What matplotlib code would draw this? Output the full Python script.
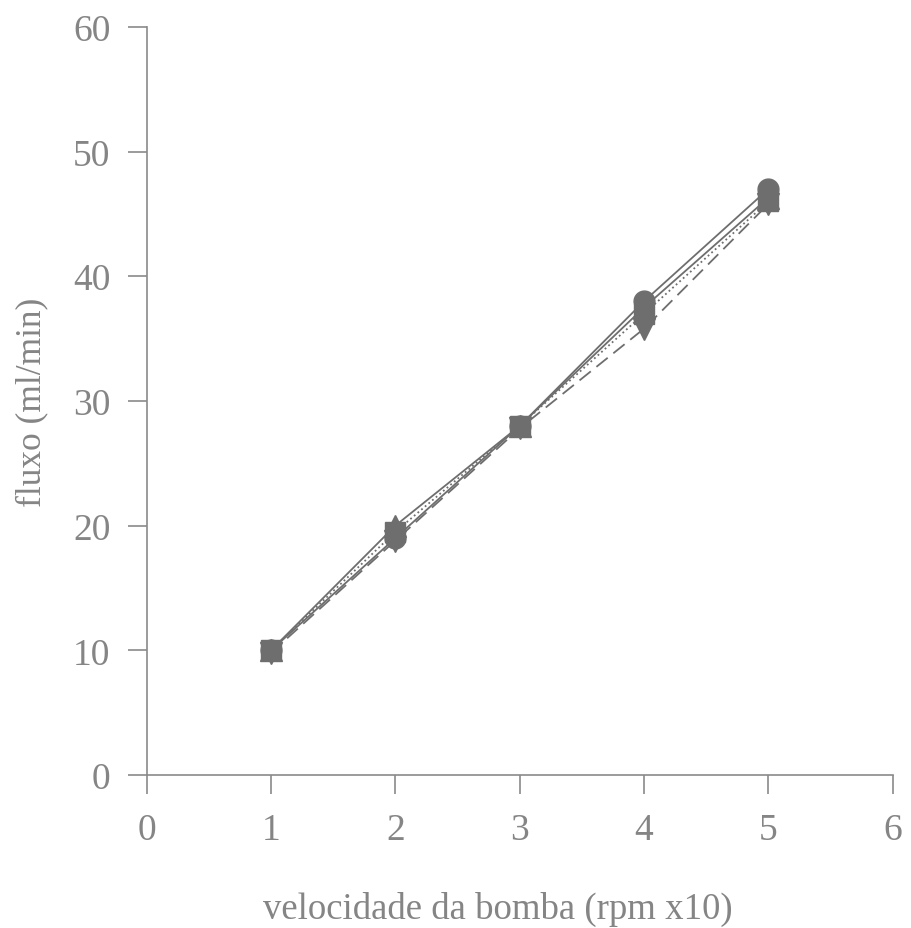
import numpy as np
import matplotlib.pyplot as plt

# velocidade da bomba (rpm x10) e fluxo medido em cada ensaio
vel = [1, 2, 3, 4, 5]
fluxo_a = [10.0, 19.0, 28.0, 38.0, 47.0]
fluxo_b = [10.0, 19.5, 28.0, 37.0, 46.0]
fluxo_c = [10.0, 20.0, 28.0, 37.5, 46.3]
fluxo_d = [9.8, 18.8, 27.8, 35.8, 45.8]

xticks = [0, 1, 2, 3, 4, 5, 6]
yticks = [0, 10, 20, 30, 40, 50, 60]

plt.rcParams['font.family'] = ['Liberation Serif', 'DejaVu Serif']
cinza = '#6e6e6e'
txt = '#858585'

fig = plt.figure(figsize=(9.11, 9.29), dpi=100)
ax = fig.add_axes([0.161, 0.1647, 0.819, 0.8053])

ax.plot(vel, fluxo_a, '-', color=cinza, lw=1.3, marker='o', ms=15, mec=cinza, mfc=cinza)
ax.plot(vel, fluxo_b, ':', color=cinza, lw=1.3, marker='s', ms=14, mec=cinza, mfc=cinza)
ax.plot(vel, fluxo_c, '-', color=cinza, lw=1.3, marker='^', ms=16, mec=cinza, mfc=cinza)
ax.plot(vel, fluxo_d, '--', dashes=(8, 4), color=cinza, lw=1.3, marker='v', ms=16, mec=cinza, mfc=cinza)

ax.set_xlim(0, 6)
ax.set_ylim(0, 60)
ax.set_xticks(xticks)
ax.set_yticks(yticks)

for s in ['top', 'right']:
    ax.spines[s].set_visible(False)
for s in ['left', 'bottom']:
    ax.spines[s].set_color('#8a8a8a')
    ax.spines[s].set_linewidth(1.2)

ax.tick_params(direction='out', length=14, width=1.2, color='#8a8a8a',
               labelsize=27, labelcolor=txt)
ax.tick_params(axis='x', pad=13)
ax.tick_params(axis='y', pad=12)

ax.set_xlabel('velocidade da bomba (rpm x10)', fontsize=26.5, color=txt)
ax.xaxis.set_label_coords(0.47, -0.155)
ax.set_ylabel('fluxo (ml/min)', fontsize=25.5, color=txt, labelpad=18)

fig.savefig('out.png', dpi=100)
